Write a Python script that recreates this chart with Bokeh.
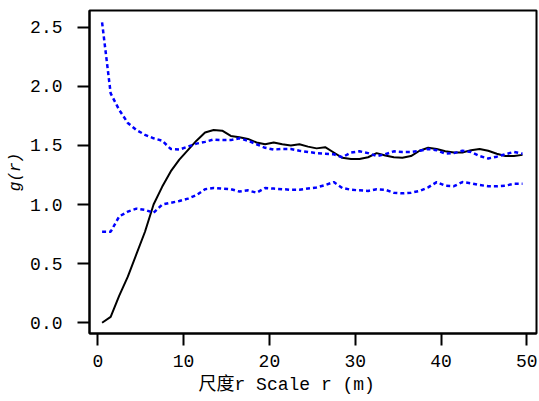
from bokeh.plotting import figure
from bokeh.models import Range1d, FixedTicker, NumeralTickFormatter, Title
from bokeh.embed import file_html
from bokeh.resources import INLINE

# distance r (m)
r = [0.5 + i for i in range(50)]

g_obs = [0.00, 0.05, 0.23, 0.39, 0.58, 0.77, 1.00, 1.15, 1.28, 1.38,
         1.46, 1.54, 1.61, 1.63, 1.625, 1.58, 1.57, 1.555, 1.525, 1.51,
         1.525, 1.51, 1.50, 1.51, 1.49, 1.475, 1.485, 1.44, 1.395, 1.385,
         1.385, 1.40, 1.435, 1.415, 1.40, 1.395, 1.41, 1.455, 1.48, 1.47,
         1.45, 1.44, 1.44, 1.46, 1.47, 1.455, 1.43, 1.41, 1.41, 1.42]

g_hi = [2.54, 1.94, 1.80, 1.69, 1.63, 1.59, 1.56, 1.54, 1.47, 1.465,
        1.49, 1.515, 1.53, 1.55, 1.545, 1.545, 1.56, 1.54, 1.51, 1.48,
        1.465, 1.47, 1.47, 1.455, 1.445, 1.435, 1.43, 1.425, 1.40, 1.44,
        1.45, 1.435, 1.41, 1.425, 1.45, 1.445, 1.445, 1.455, 1.47, 1.46,
        1.43, 1.435, 1.455, 1.445, 1.41, 1.39, 1.405, 1.425, 1.445, 1.43]

g_lo = [0.77, 0.77, 0.90, 0.94, 0.965, 0.955, 0.93, 1.00, 1.015, 1.03,
        1.05, 1.08, 1.13, 1.14, 1.135, 1.13, 1.11, 1.12, 1.10, 1.14,
        1.135, 1.13, 1.125, 1.125, 1.135, 1.145, 1.165, 1.19, 1.14, 1.125,
        1.12, 1.115, 1.13, 1.125, 1.10, 1.095, 1.10, 1.115, 1.145, 1.19,
        1.16, 1.155, 1.19, 1.18, 1.165, 1.155, 1.155, 1.16, 1.175, 1.175]

x_ticks = [0, 10, 20, 30, 40, 50]
y_ticks = [0.0, 0.5, 1.0, 1.5, 2.0, 2.5]
x_label = "尺度r Scale r (m)"
y_label = "g(r)"

MONO = "'Liberation Mono', 'Noto Sans CJK SC'"

p = figure(width=539, height=400,
           x_range=Range1d(-0.967, 51.13), y_range=Range1d(-0.0905, 2.641),
           output_backend="svg", toolbar_location=None,
           min_border_left=89, min_border_right=3,
           min_border_top=10, min_border_bottom=67)

p.xgrid.visible = False
p.ygrid.visible = False
p.outline_line_color = "black"
p.outline_line_width = 2
p.background_fill_color = "white"
p.border_fill_color = "white"

for ax in (p.xaxis[0], p.yaxis[0]):
    ax.axis_line_color = "black"
    ax.axis_line_width = 2
    ax.major_tick_line_color = "black"
    ax.major_tick_line_width = 2
    ax.major_tick_out = 12
    ax.major_tick_in = 0
    ax.minor_tick_line_color = None
    ax.major_label_text_font = MONO
    ax.major_label_text_font_size = "18px"
    ax.major_label_text_color = "black"

p.xaxis.ticker = FixedTicker(ticks=x_ticks)
p.yaxis.ticker = FixedTicker(ticks=y_ticks)
p.yaxis.formatter = NumeralTickFormatter(format="0.0")
p.xaxis.major_label_standoff = 9
p.yaxis.major_label_standoff = 15

p.yaxis.axis_label = y_label
p.yaxis.axis_label_text_font = MONO
p.yaxis.axis_label_text_font_style = "italic"
p.yaxis.axis_label_text_font_size = "16px"
p.yaxis.axis_label_standoff = 2
p.yaxis.axis_label_text_color = "black"

p.line(r, g_obs, line_color="black", line_width=2)
p.line(r, g_hi, line_color="#0000FF", line_width=2.5, line_dash="4 3")
p.line(r, g_lo, line_color="#0000FF", line_width=2.5, line_dash="4 3")

xt = Title(text=x_label, align="left", offset=109, standoff=6,
           text_font=MONO, text_font_size="18px", text_font_style="normal",
           text_color="black")
p.add_layout(xt, "below")

open("out.html", "w").write(file_html(p, INLINE))
